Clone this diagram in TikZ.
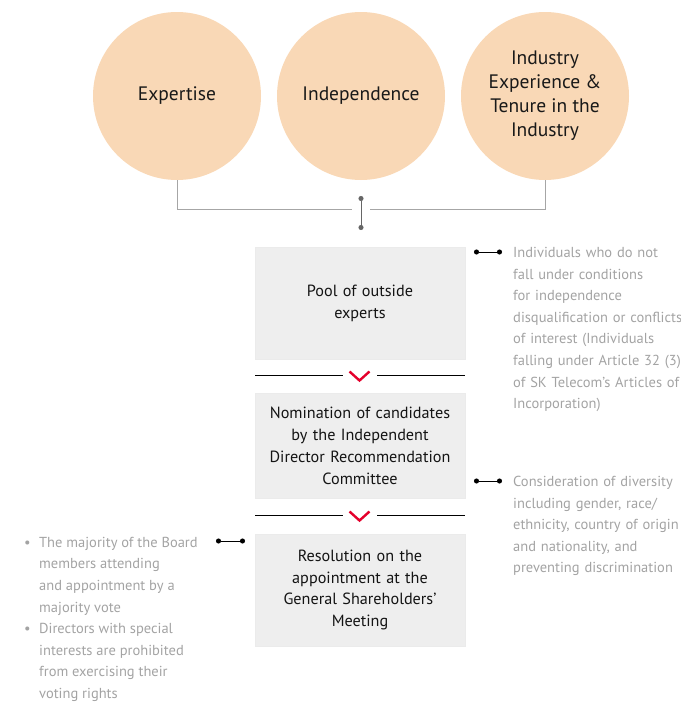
\documentclass[tikz,border=0pt]{standalone}
\usepackage{fontspec}
\setmainfont{PT Sans}
\usetikzlibrary{arrows.meta}
\definecolor{peach}{HTML}{F9D8B6}
\definecolor{boxgray}{HTML}{EEEEEE}
\definecolor{notegray}{HTML}{A3A3A3}
\definecolor{chevred}{HTML}{E4002B}
\tikzset{
  circ/.style={circle, fill=peach, minimum size=168pt, inner sep=0pt, align=center, text=black!90, font=\fontsize{19.5}{24}\selectfont},
  stepbox/.style={draw=black!8, fill=boxgray, minimum width=210pt, inner sep=0pt, align=center, text width=205pt, text=black!92, font=\fontsize{16.2}{21.8}\selectfont},
  note/.style={anchor=north west, inner sep=0pt, align=left, text=notegray, font=\fontsize{14.5}{21.6}\selectfont},
  bracket/.style={draw=black!35, line width=1pt},
  divider/.style={draw=black, line width=0.8pt},
  dotline/.style={draw=black, line width=1pt, {Circle[length=5pt]}-{Circle[length=5pt]}},
  chevron/.style={draw=chevred, line width=2.4pt}
}

\begin{document}
\begin{tikzpicture}[x=1pt, y=-1pt]
  \useasboundingbox (0,0) rectangle (680,704);
  % criteria
  \node[circ] (expertise) at (177,96) {Expertise};
  \node[circ] (independence) at (361,96) {Independence};
  \node[circ] (tenure) at (545,96) {Industry\\Experience \&\\Tenure in the\\Industry};
  \coordinate (jl) at (352,209);
  \coordinate (jr) at (370,209);
  \draw[bracket] (expertise.south) |- (jl);
  \draw[bracket] (tenure.south) |- (jr);
  \coordinate (vtop) at (361,196);
  \coordinate (vbot) at (361,230);
  \draw[dotline, draw=black!60] (vtop) -- (vbot);
  % process
  \node[stepbox, minimum height=112pt] (pool) at (360,303) {Pool of outside\\experts};
  \node[stepbox, minimum height=105pt] (nomination) at (360,446) {Nomination of candidates\\by the Independent\\Director Recommendation\\Committee};
  \node[stepbox, minimum height=112pt] (resolution) at (360,590) {Resolution on the\\appointment at the\\General Shareholders'\\Meeting};
  % dividers
  \coordinate (d1l) at (255,375); \coordinate (d1m) at (343,375);
  \coordinate (d1n) at (377,375); \coordinate (d1r) at (465,375);
  \draw[divider] (d1l) -- (d1m) (d1n) -- (d1r);
  \draw[chevron] (349.5,371.5) -- (359.5,380.5) -- (369.5,371.5);
  \coordinate (d2l) at (255,515); \coordinate (d2m) at (343,515);
  \coordinate (d2n) at (377,515); \coordinate (d2r) at (465,515);
  \draw[divider] (d2l) -- (d2m) (d2n) -- (d2r);
  \draw[chevron] (349.5,511.5) -- (359.5,520.5) -- (369.5,511.5);
  % notes
  \coordinate (n1a) at (474,252); \coordinate (n1b) at (502,252);
  \draw[dotline] (n1a) -- (n1b);
  \node[note, text width=200pt] (poolnote) at (513,247) {Individuals who do not\\fall under conditions\\for independence\\disqualification or conflicts\\of interest (Individuals\\falling under Article 32 (3)\\of SK Telecom's Articles of\\Incorporation)};
  \coordinate (n2a) at (474,481); \coordinate (n2b) at (502,481);
  \draw[dotline] (n2a) -- (n2b);
  \node[note, text width=200pt] (diversitynote) at (513,476) {Consideration of diversity\\including gender, race/\\ethnicity, country of origin\\and nationality, and\\preventing discrimination};
  \coordinate (n3a) at (216,541); \coordinate (n3b) at (245,541);
  \draw[dotline] (n3a) -- (n3b);
  \node[note] (votenote) at (24,532) {%
    \begin{tabular}{@{}p{15pt}@{}l@{}}
      \textbullet & The majority of the Board\\
                  & members attending\\
                  & and appointment by a\\
                  & majority vote\\
      \textbullet & Directors with special\\
                  & interests are prohibited\\
                  & from exercising their\\
                  & voting rights
    \end{tabular}};
\end{tikzpicture}
\end{document}
